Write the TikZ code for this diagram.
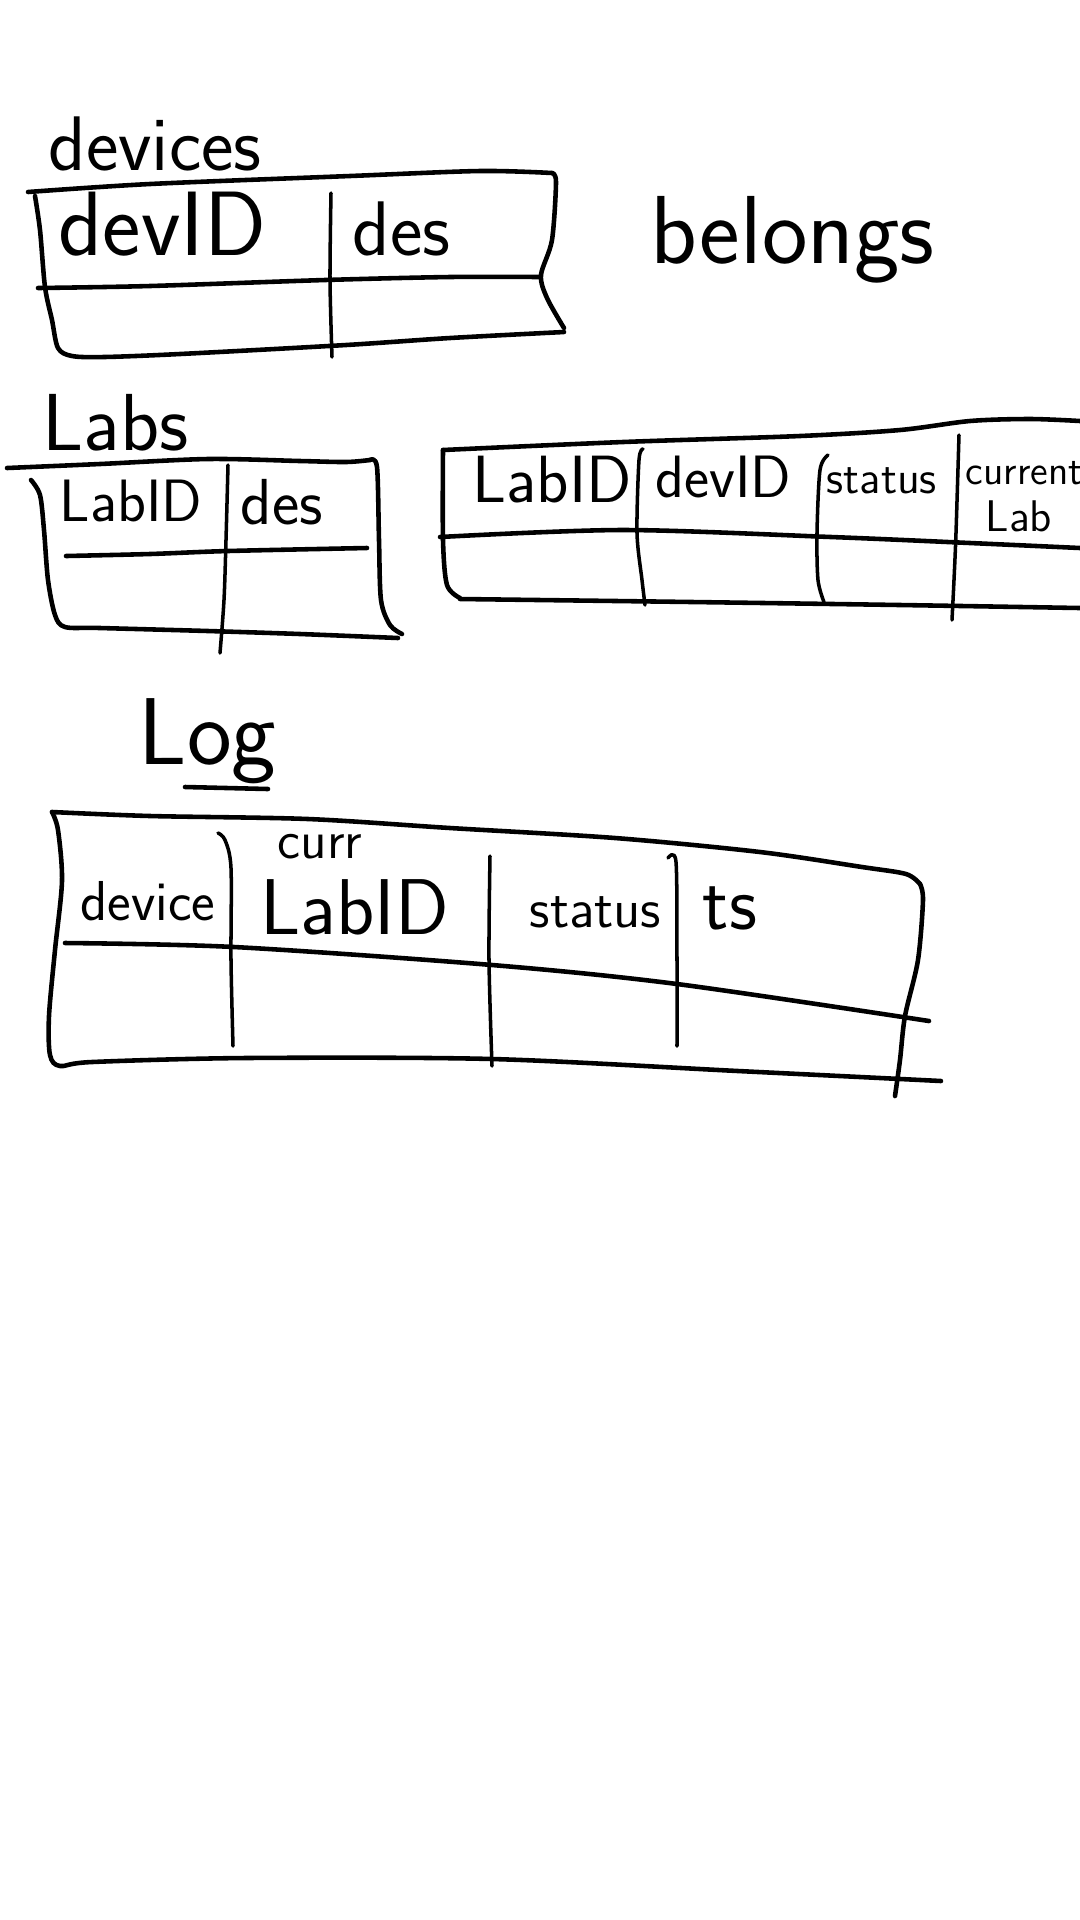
\documentclass[tikz,border=0pt]{standalone}
\usepackage{fontspec}
\begin{document}
\begin{tikzpicture}[x=0.01cm,y=-0.01cm,
  ink/.style={line width=1.3pt,line cap=round,line join=round},
  thin/.style={line width=1.0pt,line cap=round,line join=round},
  hw/.style={anchor=base west,inner sep=0pt,font=\sffamily}]
\useasboundingbox[fill=white] (0,0) rectangle (1080,1920);

% ---------- devices ----------
\node[hw] (devlbl) at (48,170) {\fontsize{22}{24}\selectfont devices};
\draw[ink] plot[smooth,tension=0.5] coordinates {(28,192) (150,184) (350,176) (480,171) (552,173)};
\draw[ink] plot[smooth,tension=0.5] coordinates {(552,173) (556,182) (552,240) (541,275) (547,298) (564,328)};
\draw[ink] plot[smooth,tension=0.5] coordinates {(564,332) (450,338) (346,345) (180,354) (104,357) (72,356) (58,348) (52,320) (45,287) (40,230) (35,196)};
\draw[ink] plot[smooth,tension=0.5] coordinates {(38,288) (150,286) (325,280) (450,277) (540,277)};
\draw[thin] plot[smooth,tension=0.5] coordinates {(331,193) (330,280) (332,357)};
\node[hw] (devid) at (58,255) {\fontsize{26}{28}\selectfont devID};
\node[hw] (devdes) at (352,255) {\fontsize{22}{24}\selectfont des};

\node[hw] (belongslbl) at (650,263) {\fontsize{27.5}{30}\selectfont belongs};

% ---------- Labs ----------
\node[hw] (labslbl) at (42,450) {\fontsize{23}{25}\selectfont Labs};
\draw[ink] plot[smooth,tension=0.5] coordinates {(7,468) (100,464) (208,459) (300,461) (346,462) (370,460)};
\draw[ink] plot[smooth,tension=0.5] coordinates {(370,460) (377,467) (379,540) (381,600) (390,625) (402,634)};
\draw[ink] plot[smooth,tension=0.5] coordinates {(398,638) (300,634) (208,631) (100,628) (65,627) (55,615) (48,580) (44,530) (40,495) (31,480)};
\draw[ink] plot[smooth,tension=0.5] coordinates {(66,556) (150,554) (228,551) (367,548)};
\draw[thin] plot[smooth,tension=0.5] coordinates {(228,465) (226,540) (224,600) (220,653)};
\node[hw] (labid) at (59,521) {\fontsize{17}{19}\selectfont LabID};
\node[hw] (labdes) at (240,524) {\fontsize{18.5}{20}\selectfont des};

% ---------- belongs table ----------
\draw[ink] plot[smooth,tension=0.5] coordinates {(443,450) (623,442) (800,436) (900,430) (970,421) (1030,419) (1080,421)};
\draw[ink] plot[smooth,tension=0.5] coordinates {(443,450) (443,540) (447,585) (460,598)};
\draw[ink] plot[smooth,tension=0.5] coordinates {(460,599) (692,602) (900,605) (1080,608)};
\draw[ink] plot[smooth,tension=0.5] coordinates {(440,537) (623,530) (831,537) (970,543) (1080,548)};
\draw[thin] plot[smooth,tension=0.5] coordinates {(643,449) (639,460) (637,533) (642,580) (645,605)};
\draw[thin] plot[smooth,tension=0.5] coordinates {(828,455) (820,470) (817,533) (818,580) (824,602)};
\draw[thin] plot[smooth,tension=0.5] coordinates {(959,435) (956,533) (954,580) (952,620)};
\node[hw] (blabid) at (472,502) {\fontsize{19}{21}\selectfont LabID};
\node[hw] (bdevid) at (655,497) {\fontsize{17}{19}\selectfont devID};
\node[hw] (bstatus) at (826,493) {\fontsize{12.9}{14}\selectfont status};
\node[hw] (bcurrent) at (965,484) {\fontsize{11.5}{13}\selectfont current};
\node[hw] (blab) at (985,531) {\fontsize{12.6}{14}\selectfont Lab};

% ---------- Log ----------
\node[hw] (loglbl) at (138,764) {\fontsize{27}{29}\selectfont Log};
\draw[ink] (185,787) -- (268,789);
\draw[ink] plot[smooth,tension=0.5] coordinates {(52,812) (150,816) (308,819) (450,828) (615,838) (760,852) (862,867) (906,874) (920,884)};
\draw[ink] plot[smooth,tension=0.5] coordinates {(920,884) (923,900) (918,960) (905,1016) (900,1060) (895,1096)};
\draw[ink] plot[smooth,tension=0.5] coordinates {(52,812) (58,830) (62,881) (55,950) (49,1016) (50,1055) (60,1066) (92,1062) (246,1058) (492,1059) (738,1071) (941,1081)};
\draw[ink] plot[smooth,tension=0.5] coordinates {(65,943) (234,947) (492,965) (677,984) (929,1021)};
\draw[thin] plot[smooth,tension=0.5] coordinates {(218,833) (225,840) (231,868) (231,960) (233,1046)};
\draw[thin] plot[smooth,tension=0.5] coordinates {(490,856) (489,960) (492,1066)};
\draw[thin] plot[smooth,tension=0.5] coordinates {(668,858) (676,862) (677,960) (677,1046)};
\node[hw] (ldevice) at (80,920) {\fontsize{16}{18}\selectfont device};
\node[hw] (lcurr) at (277,858) {\fontsize{15}{17}\selectfont curr};
\node[hw] (llabid) at (260,934) {\fontsize{22.5}{24}\selectfont LabID};
\node[hw] (lstatus) at (529,927) {\fontsize{15.4}{17}\selectfont status};
\node[hw] (lts) at (702,929) {\fontsize{22}{24}\selectfont ts};
\end{tikzpicture}
\end{document}
